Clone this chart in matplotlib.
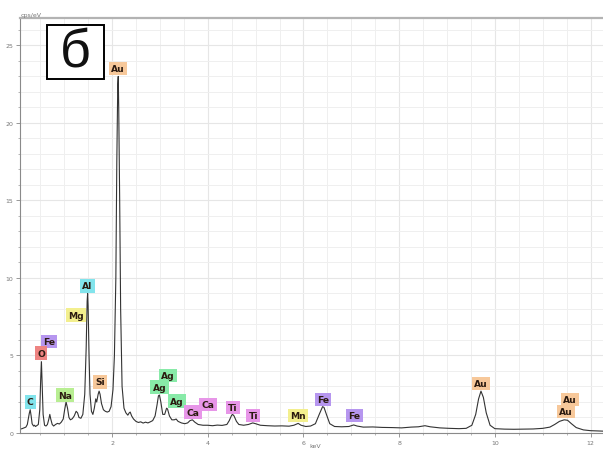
import matplotlib
matplotlib.use("Agg")
import matplotlib.pyplot as plt
from matplotlib.ticker import MultipleLocator
from matplotlib.patches import Rectangle

# Spectrum (keV, cps/eV)
energy = [0.08, 0.12, 0.16, 0.20, 0.23, 0.25, 0.27, 0.29, 0.31, 0.33, 0.36, 0.38, 0.40, 0.43, 0.46,
          0.49, 0.51, 0.525, 0.54, 0.56, 0.59, 0.62, 0.65, 0.68, 0.70, 0.72, 0.75, 0.78, 0.82,
          0.86, 0.90, 0.94, 0.98, 1.01, 1.04, 1.07, 1.10, 1.13, 1.17, 1.21, 1.25, 1.28, 1.31,
          1.35, 1.39, 1.43, 1.46, 1.48, 1.49, 1.50, 1.52, 1.54, 1.57, 1.60, 1.63, 1.66, 1.68,
          1.71, 1.73, 1.75, 1.78, 1.82, 1.86, 1.90, 1.94, 1.98, 2.02, 2.05, 2.08, 2.10, 2.12,
          2.13, 2.14, 2.16, 2.18, 2.21, 2.25, 2.29, 2.33, 2.36, 2.38, 2.41, 2.45, 2.50, 2.55,
          2.60, 2.65, 2.70, 2.75, 2.80, 2.85, 2.90, 2.94, 2.97, 2.99, 3.02, 3.06, 3.10, 3.14,
          3.16, 3.20, 3.25, 3.30, 3.34, 3.38, 3.45, 3.52, 3.58, 3.63, 3.68, 3.73, 3.80, 3.90,
          4.00, 4.10, 4.20, 4.30, 4.40, 4.45, 4.50, 4.52, 4.55, 4.60, 4.65, 4.75, 4.85, 4.94,
          5.00, 5.10, 5.25, 5.40, 5.55, 5.70, 5.80, 5.89, 5.95, 6.05, 6.15, 6.25, 6.33, 6.40,
          6.43, 6.48, 6.55, 6.65, 6.80, 6.95, 7.05, 7.12, 7.25, 7.45, 7.65, 7.85, 8.05, 8.25,
          8.40, 8.54, 8.65, 8.85, 9.05, 9.25, 9.40, 9.52, 9.60, 9.66, 9.71, 9.76, 9.82, 9.90,
          10.00, 10.20, 10.40, 10.60, 10.80, 11.00, 11.15, 11.25, 11.35, 11.45, 11.52, 11.60,
          11.70, 11.85, 12.00, 12.26]
counts = [0.25, 0.28, 0.33, 0.38, 0.55, 0.9, 1.25, 1.5, 1.1, 0.6, 0.45, 0.5, 0.42, 0.48, 0.55,
          1.5, 3.5, 4.6, 3.2, 1.2, 0.5, 0.45, 0.55, 0.9, 1.2, 0.9, 0.55, 0.45, 0.55,
          0.62, 0.58, 0.7, 0.9, 1.5, 2.0, 1.6, 1.0, 0.85, 0.92, 1.1, 1.4, 1.3, 1.0,
          0.95, 1.2, 2.5, 5.5, 8.5, 9.0, 8.2, 5.0, 2.5, 1.4, 1.2, 1.6, 2.2, 2.0,
          2.5, 2.7, 2.5, 1.9, 1.5, 1.4, 1.35, 1.4, 1.7, 2.8, 5.0, 10.0, 17.5, 22.5,
          23.0, 21.0, 15.0, 8.0, 3.0, 1.6, 1.3, 1.15, 1.3, 1.35, 1.1, 0.9, 0.75, 0.68,
          0.72, 0.64, 0.7, 0.65, 0.72, 0.8, 1.1, 1.8, 2.4, 2.45, 2.0, 1.2, 1.2, 1.6,
          1.55, 1.1, 0.85, 0.85, 0.9, 0.75, 0.65, 0.6, 0.65, 0.8, 0.85, 0.7, 0.55, 0.5,
          0.5, 0.47, 0.51, 0.49, 0.55, 0.8, 1.15, 1.2, 1.1, 0.75, 0.55, 0.5, 0.55, 0.65,
          0.6, 0.5, 0.47, 0.45, 0.46, 0.44, 0.5, 0.62, 0.5, 0.42, 0.45, 0.6, 1.2, 1.7,
          1.65, 1.2, 0.6, 0.42, 0.4, 0.42, 0.52, 0.45, 0.38, 0.39, 0.36, 0.35, 0.33, 0.38,
          0.4, 0.47, 0.4, 0.33, 0.3, 0.28, 0.3, 0.5, 1.2, 2.2, 2.7, 2.3, 1.3, 0.5,
          0.28, 0.25, 0.24, 0.25, 0.26, 0.3, 0.38, 0.55, 0.75, 0.85, 0.82, 0.6,
          0.35, 0.2, 0.15, 0.12]

# Peak labels: text, keV position, cps position, colour
label_text = ["Au", "Al", "Mg", "Fe", "O", "C", "Na", "Si", "Ag", "Ag", "Ag", "Ca", "Ca",
              "Ti", "Ti", "Mn", "Fe", "Fe", "Au", "Au", "Au"]
label_x = [2.13, 1.48, 1.25, 0.68, 0.52, 0.29, 1.02, 1.75, 3.17, 2.99, 3.36, 3.69, 4.01,
           4.53, 4.95, 5.89, 6.41, 7.06, 9.71, 11.57, 11.49]
label_y = [23.5, 9.5, 7.6, 5.9, 5.15, 2.0, 2.45, 3.3, 3.7, 2.95, 2.05, 1.35, 1.85,
           1.65, 1.12, 1.12, 2.15, 1.12, 3.2, 2.15, 1.4]
label_color = ["#f7c89a", "#82e4ec", "#f3ef8e", "#b696ef", "#ee8482", "#82e4ec", "#b8ee92",
               "#f7c89a", "#88eaa8", "#88eaa8", "#88eaa8", "#e796e8", "#e796e8",
               "#e796e8", "#e796e8", "#f3ef8e", "#b696ef", "#b696ef", "#f7c89a",
               "#f7c89a", "#f7c89a"]

W, H = 603, 452
fig = plt.figure(figsize=(W / 100, H / 100), dpi=100)
ax = fig.add_axes([20 / W, (H - 434) / H, 1 - 20 / W, (434 - 18.5) / H])

ax.plot(energy, counts, color="#333333", lw=0.8)

for t, x, y, c in zip(label_text, label_x, label_y, label_color):
    ax.text(x, y, t, ha="center", va="center", fontsize=6.6, fontweight="bold",
            color="#2b1a10", bbox=dict(boxstyle="square,pad=0.25", fc=c, ec="none"),
            zorder=5)

ax.set_xlim(0.077, 12.26)
ax.set_ylim(0, 26.8)
ax.xaxis.set_major_locator(MultipleLocator(2))
ax.xaxis.set_minor_locator(MultipleLocator(0.5))
ax.yaxis.set_major_locator(MultipleLocator(5))
ax.yaxis.set_minor_locator(MultipleLocator(1))
ax.grid(which="major", color="#e6e6e6", lw=0.8)
ax.grid(which="minor", color="#efefef", lw=0.7)
ax.set_axisbelow(True)
ax.tick_params(which="major", length=3, width=0.6, color="#888888", labelsize=4.5,
               labelcolor="#777777", pad=2)
ax.tick_params(which="minor", length=1.5, width=0.5, color="#999999")
ax.set_xticks([2, 4, 6, 8, 10, 12])
ax.set_xticklabels(["2", "4", "6", "8", "10", "12"])
for s in ["left", "bottom"]:
    ax.spines[s].set_color("#8a8a8a")
    ax.spines[s].set_linewidth(0.8)
ax.spines["top"].set_color("#b3b3b3")
ax.spines["top"].set_linewidth(1.6)
ax.spines["right"].set_visible(False)

fig.text(21 / W, 1 - 16 / H, "cps/eV", fontsize=4.5, color="#777777", ha="left", va="center")
fig.text(315 / W, 1 - 447 / H, "keV", fontsize=4.5, color="#777777", ha="center", va="center")

# panel letter
fig.patches.append(Rectangle((47 / W, 1 - 80 / H), 57 / W, 54 / H, transform=fig.transFigure,
                             fill=True, fc="white", ec="black", lw=1.4, zorder=10))
fig.text(75.5 / W, 1 - 54 / H, "б", fontsize=39, family="Liberation Sans", color="#111111",
         ha="center", va="center", zorder=11)

fig.savefig("out.png", dpi=100)
